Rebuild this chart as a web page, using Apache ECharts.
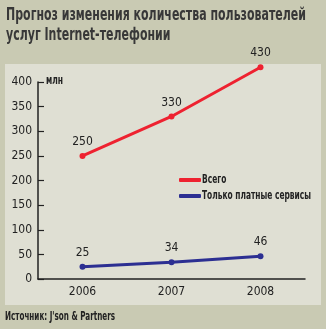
<!DOCTYPE html>
<html>
<head>
<meta charset="utf-8">
<script src="https://cdn.jsdelivr.net/npm/echarts@6/dist/echarts.min.js"></script>
<style>
  html, body { margin: 0; padding: 0; background: #c9cab3; }
  #chart { width: 326px; height: 329px; }
</style>
</head>
<body>
<div id="chart"></div>
<script>
// Forecast of Internet-telephony users, millions
const years = ['2006', '2007', '2008'];
const totalUsers = [250, 330, 430];
const paidUsers = [25, 34, 46];
const yTicks = [0, 50, 100, 150, 200, 250, 300, 350, 400];
const seriesNames = ['Всего', 'Только платные сервисы'];

const titleLines = ['Прогноз изменения количества пользователей', 'услуг Internet-телефонии'];
const unitText = 'млн';
const sourceText = 'Источник: J\'son & Partners';

const FONT = '"Liberation Sans Narrow", "DejaVu Sans Condensed", "Liberation Sans", sans-serif';
const INK = '#222222';

// measure a string so narrow headings can be squeezed horizontally
const ctx = document.createElement('canvas').getContext('2d');
function textWidth(str, font) { ctx.font = font; return ctx.measureText(str).width; }

const TITLE_FONT = 'bold 18px ' + FONT;
const titleScale = 300 / textWidth(titleLines[0], TITLE_FONT);
const SRC_FONT = 'bold 12px ' + FONT;
const srcScale = 110 / textWidth(sourceText, SRC_FONT);
const UNIT_FONT = 'bold 12px ' + FONT;
const unitScale = 17 / textWidth(unitText, UNIT_FONT);
const LEG_FONT = 'bold 12px ' + FONT;
const legScale = 109 / textWidth(seriesNames[1], LEG_FONT);

const chart = echarts.init(document.getElementById('chart'), null, { renderer: 'canvas' });

chart.setOption({
  backgroundColor: '#c9cab3',
  animation: false,
  textStyle: { fontFamily: FONT },
  graphic: [
    {
      type: 'rect', z: -10,
      shape: { x: 5, y: 64, width: 316, height: 241 },
      style: { fill: '#dfdfd3' }
    },
    {
      type: 'text', x: 6, y: 5, scaleX: titleScale,
      style: { text: titleLines.join('\n'), font: TITLE_FONT, fill: '#383838', lineHeight: 20 }
    },
    {
      type: 'text', x: 46, y: 75, scaleX: unitScale,
      style: { text: unitText, font: UNIT_FONT, fill: INK }
    },
    {
      type: 'text', x: 5, y: 311, scaleX: srcScale,
      style: { text: sourceText, font: SRC_FONT, fill: INK }
    },
    // legend captions, squeezed to the narrow face
    {
      type: 'text', x: 202, y: 180, scaleX: legScale,
      style: { text: seriesNames[0], font: LEG_FONT, fill: INK, verticalAlign: 'middle' }
    },
    {
      type: 'text', x: 202, y: 196, scaleX: legScale,
      style: { text: seriesNames[1], font: LEG_FONT, fill: INK, verticalAlign: 'middle' }
    }
  ],
  legend: {
    orient: 'vertical', left: 174, top: 169,
    itemWidth: 22, itemHeight: 4, itemGap: 4,
    icon: 'roundRect',
    formatter: () => ' ',
    textStyle: { fontSize: 12, lineHeight: 12 },
    data: seriesNames
  },
  grid: { left: 38, right: 21, top: 82, bottom: 50, containLabel: false },
  xAxis: {
    type: 'category', data: years, boundaryGap: true,
    axisLine: { lineStyle: { color: INK, width: 1.5 } },
    axisTick: { inside: true, length: 5, alignWithLabel: false, lineStyle: { color: INK, width: 1.2 } },
    axisLabel: { color: INK, fontFamily: FONT, fontSize: 12, margin: 7 },
    splitLine: { show: false }
  },
  yAxis: {
    type: 'value', min: 0, max: 400, interval: 50,
    axisLine: { show: true, lineStyle: { color: INK, width: 1.5 } },
    axisTick: { show: true, inside: true, length: 6, lineStyle: { color: INK, width: 1.2 } },
    axisLabel: {
      color: INK, fontFamily: FONT, fontSize: 12, margin: 6,
      customValues: yTicks
    },
    splitLine: { show: false }
  },
  series: [
    {
      name: seriesNames[0], type: 'line', data: totalUsers, clip: false,
      color: '#ee2230',
      lineStyle: { width: 3, color: '#ee2230' },
      symbol: 'circle', symbolSize: 6,
      label: {
        show: true, position: 'top', distance: 5,
        color: INK, fontFamily: FONT, fontSize: 12
      }
    },
    {
      name: seriesNames[1], type: 'line', data: paidUsers, clip: false,
      color: '#2c2f92',
      lineStyle: { width: 3, color: '#2c2f92' },
      symbol: 'circle', symbolSize: 6,
      label: {
        show: true, position: 'top', distance: 5,
        color: INK, fontFamily: FONT, fontSize: 12
      }
    }
  ]
});
</script>
</body>
</html>
